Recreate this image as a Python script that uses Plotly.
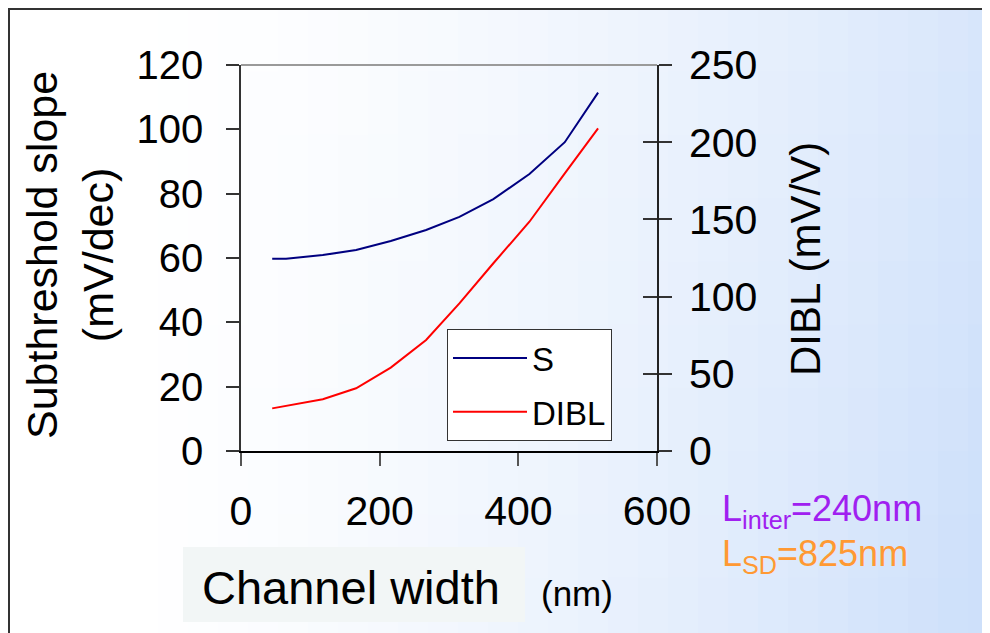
import plotly.graph_objects as go

# ---------------- data ----------------
s_width = [45, 65, 118, 166, 216, 267, 315, 364, 416, 467, 515]
s_values = [59.8, 59.8, 60.9, 62.5, 65.3, 68.7, 72.8, 78.3, 86.1, 96.0, 111.4]
dibl_width = [45, 118, 166, 216, 267, 315, 364, 416, 467, 515]
dibl_values = [27.6, 33.5, 40.6, 54.0, 71.9, 95.6, 121.6, 148.5, 179.8, 209.0]

x_ticks = [0, 200, 400, 600]
s_ticks = [0, 20, 40, 60, 80, 100, 120]
dibl_ticks = [0, 50, 100, 150, 200, 250]

FONT = "Liberation Sans, Arial, Helvetica, sans-serif"

W, H = 990, 633
OFF = 8  # page body margin offset
# plot area in screen pixels
SL, SR, ST, SB = 241, 657, 65, 451
L, R, T, B = SL - OFF, SR - OFF, ST - OFF, SB - OFF


def px(x):  # screen x -> paper
    return (x - SL) / (SR - SL)


def py(y):  # screen y -> paper
    return (SB - y) / (SB - ST)


fig = go.Figure()
fig.add_trace(go.Scatter(x=s_width, y=s_values, mode="lines", name="S",
                         line=dict(color="#000080", width=2), legendgroup="a"))
fig.add_trace(go.Scatter(x=dibl_width, y=dibl_values, mode="lines", name="DIBL",
                         line=dict(color="#ff0000", width=2), yaxis="y2", legendgroup="b"))

shapes = []
# background gradient (decoration)
ncol, nrow = 33, 10
c0 = (255, 255, 255)
c1 = (206, 224, 250)
for i in range(ncol):
    for j in range(nrow):
        x0 = OFF + i * W / ncol
        x1 = OFF + (i + 1) * W / ncol + 1
        y0 = OFF + j * H / nrow
        y1 = OFF + (j + 1) * H / nrow + 1
        xc = (x0 + x1) / 2
        yc = (y0 + y1) / 2
        tx = max(0.0, (xc - 120) / (W - 120))
        t = tx ** 1.6 * 0.8 + (yc / H) * 0.25 * tx
        t = min(1.0, t)
        col = tuple(int(round(c0[k] + (c1[k] - c0[k]) * t)) for k in range(3))
        shapes.append(dict(type="rect", xref="paper", yref="paper", layer="below",
                           x0=px(x0), x1=px(x1), y0=py(y1), y1=py(y0),
                           fillcolor="rgb(%d,%d,%d)" % col, line=dict(width=0)))
# outer frame
shapes.append(dict(type="rect", xref="paper", yref="paper", layer="below",
                   x0=px(9), x1=px(1010), y0=py(660), y1=py(9),
                   line=dict(color="#333333", width=2), fillcolor="rgba(0,0,0,0)"))
shapes.append(dict(type="rect", xref="paper", yref="paper", layer="below",
                   x0=px(985), x1=px(1010), y0=py(660), y1=py(468),
                   line=dict(color="#333333", width=2), fillcolor="rgba(0,0,0,0)"))
# x-title background box
shapes.append(dict(type="rect", xref="paper", yref="paper", layer="below",
                   x0=px(183), x1=px(525), y0=py(622), y1=py(547),
                   fillcolor="#f2f6f6", line=dict(width=0)))
# top border of plot area
shapes.append(dict(type="line", xref="x domain", yref="y domain", x0=0, x1=1, y0=1, y1=1,
                   line=dict(color="#9a9a9a", width=2)))

annotations = [
    dict(text="Subthreshold slope<br>(mV/dec)", xref="paper", yref="paper",
         x=px(70), y=py(255), xanchor="center", yanchor="middle", textangle=-90,
         showarrow=False, font=dict(family=FONT, size=43, color="black")),
    dict(text="DIBL (mV/V)", xref="paper", yref="paper",
         x=px(805), y=py(259), xanchor="center", yanchor="middle", textangle=-90,
         showarrow=False, font=dict(family=FONT, size=42, color="black")),
    dict(text="Channel width", xref="paper", yref="paper",
         x=px(200), y=py(587), xanchor="left", yanchor="middle",
         showarrow=False, font=dict(family=FONT, size=47, color="black")),
    dict(text="(nm)", xref="paper", yref="paper",
         x=px(539), y=py(593), xanchor="left", yanchor="middle",
         showarrow=False, font=dict(family=FONT, size=35, color="black")),
    dict(text="L<sub>inter</sub>=240nm", xref="paper", yref="paper",
         x=px(720), y=py(486), xanchor="left", yanchor="top",
         showarrow=False, font=dict(family=FONT, size=36, color="#a020f0")),
    dict(text="L<sub>SD</sub>=825nm", xref="paper", yref="paper",
         x=px(720), y=py(531), xanchor="left", yanchor="top",
         showarrow=False, font=dict(family=FONT, size=36, color="#ff9933")),
]

fig.update_layout(
    width=W, height=H,
    margin=dict(l=L, r=W - R, t=T, b=H - B, pad=0),
    paper_bgcolor="white", plot_bgcolor="rgba(0,0,0,0)",
    font=dict(family=FONT, size=41, color="black"),
    showlegend=True,
    legend=dict(x=px(447), y=py(329), xanchor="left", yanchor="top",
                bgcolor="white", bordercolor="#333333", borderwidth=1,
                font=dict(family=FONT, size=33, color="black"),
                traceorder="grouped", tracegroupgap=8, itemwidth=74),
    xaxis=dict(range=[0, 600], tickvals=x_ticks, showgrid=False, zeroline=False,
               showline=True, linecolor="black", linewidth=2,
               ticks="outside", ticklen=13, tickcolor="#555555", tickwidth=1.5,
               ticklabelstandoff=10, tickfont=dict(size=41)),
    yaxis=dict(range=[0, 120], tickvals=s_ticks, showgrid=False, zeroline=False,
               showline=True, linecolor="#333333", linewidth=1.5,
               ticks="outside", ticklen=13, tickcolor="#333333", tickwidth=1.5,
               ticklabelstandoff=15, tickfont=dict(size=40)),
    yaxis2=dict(range=[0, 250], tickvals=dibl_ticks, overlaying="y", side="right",
                showgrid=False, zeroline=False, showline=True, linecolor="#222222",
                linewidth=1.5, ticks="outside", ticklen=13, tickcolor="#333333",
                tickwidth=1.5, ticklabelstandoff=9, tickfont=dict(size=41)),
    yaxis3=dict(range=[0, 250], tickvals=dibl_ticks, overlaying="y", side="right",
                showgrid=False, zeroline=False, showline=False, showticklabels=False,
                ticks="inside", ticklen=14, tickcolor="#333333", tickwidth=1.5),
    shapes=shapes,
    annotations=annotations,
)
# invisible trace so that the crossing right-hand ticks are drawn
fig.add_trace(go.Scatter(x=[None], y=[None], yaxis="y3", showlegend=False,
                         hoverinfo="skip"))

fig.write_html("out.html")
